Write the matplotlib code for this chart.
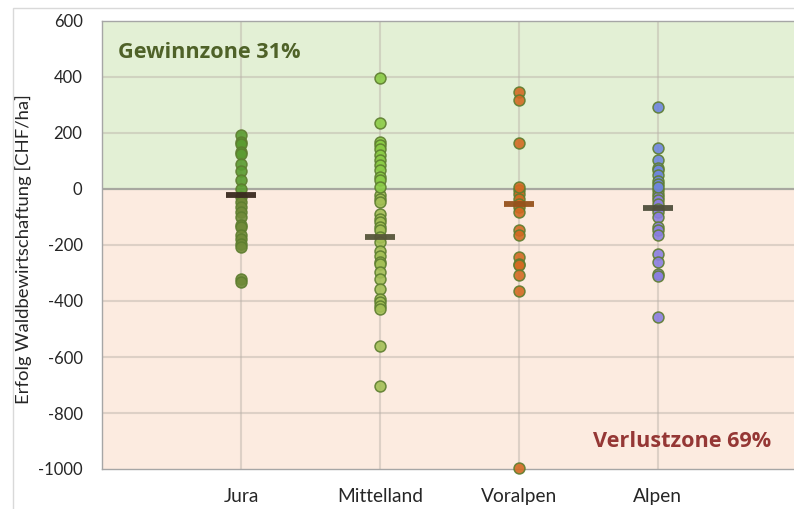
import matplotlib
matplotlib.use("Agg")
import matplotlib.pyplot as plt
from matplotlib.patches import Rectangle

categories = ["Jura", "Mittelland", "Voralpen", "Alpen"]

jura = [193, 168, 162, 132, 126, 91, 66, 31, 1, -29, -47, -65, -83, -101,
        -130, -136, -166, -178, -196, -208, -321, -333]
mittelland = [395, 237, 168, 156, 144, 120, 104, 86, 69, 43, 31, 7, -23, -35,
              -47, -88, -106, -118, -136, -148, -172, -190, -220, -238, -262,
              -267, -297, -321, -357, -393, -405, -417, -428, -560, -703]
voralpen = [347, 317, 164, 7, -5, -17, -35, -53, -65, -83, -148, -166, -244,
            -267, -273, -306, -365, -995]
alpen = [293, 148, 102, 76, 69, 49, 28, 19, 7, -5, -17, -29, -41, -53, -71,
         -83, -101, -136, -148, -166, -232, -262, -303, -309, -458]
series = [jura, mittelland, voralpen, alpen]

means = [-23, -170, -53, -67]

y_ticks = [600, 400, 200, 0, -200, -400, -600, -800, -1000]
zone_labels = ["Gewinnzone 31%", "Verlustzone 69%"]

pos_colors = ["#5a9b30", "#8acb45", "#d26a22", "#6f86dd"]
neg_colors = ["#6f8a38", "#a3bf55", "#d26a22", "#8a7ee0"]
mean_colors = ["#3a2a1f", "#57553a", "#96521c", "#4f4f3c"]
edge_col = "#5d7d2f"

plt.rcParams['font.family'] = ['Lato', 'DejaVu Sans']

W, H = 794, 509
fig = plt.figure(figsize=(W / 100, H / 100), dpi=100)

# outer chart border
fig.patches.append(Rectangle((13 / W, -0.01), 1.0, 1 - 8 / H + 0.01,
                             transform=fig.transFigure, fill=False,
                             edgecolor="#d9d9d9", linewidth=1.0))

left, right, top, bottom = 102, 794, 21, 469
ax = fig.add_axes([left / W, 1 - bottom / H, (right - left) / W, (bottom - top) / H])

ymin, ymax = -1000, 600
ax.set_ylim(ymin, ymax)
ax.set_xlim(0, 4.98)

ax.axhspan(0, ymax, color="#e3f0d5", zorder=0, linewidth=0)
ax.axhspan(ymin, 0, color="#fcebe0", zorder=0, linewidth=0)

for yv in y_ticks:
    if yv in (ymin, ymax, 0):
        continue
    ax.axhline(yv, color="#b9b0a8", alpha=0.45, linewidth=1.5, zorder=1)
for i in range(len(categories)):
    ax.axvline(i + 1, color="#b9b0a8", alpha=0.45, linewidth=1.5, zorder=1)
ax.axhline(0, color="#a8a8a0", linewidth=1.6, zorder=2)

for i, vals in enumerate(series):
    pos = [v for v in vals if v >= 0]
    neg = [v for v in vals if v < 0]
    ax.scatter([i + 1] * len(neg), neg, s=62, color=neg_colors[i],
               edgecolors=edge_col, linewidths=1.1, alpha=0.9, zorder=3,
               clip_on=False)
    ax.scatter([i + 1] * len(pos), pos, s=62, color=pos_colors[i],
               edgecolors=edge_col, linewidths=1.1, alpha=0.9, zorder=3,
               clip_on=False)

for i, m in enumerate(means):
    ax.plot([i + 1], [m], marker="_", markersize=21, markeredgewidth=4.2,
            color=mean_colors[i], zorder=5, alpha=0.95)

ax.set_yticks(y_ticks)
ax.set_yticklabels([str(v) for v in y_ticks], fontsize=12, color="#262626")
ax.set_xticks(range(1, len(categories) + 1))
ax.set_xticklabels(categories, fontsize=13.8, color="#262626")
ax.tick_params(axis="y", length=0, pad=14)
ax.tick_params(axis="x", length=0, pad=14)

for sp in ["left", "bottom", "top"]:
    ax.spines[sp].set_color("#a6a6a6")
    ax.spines[sp].set_linewidth(1.0)
ax.spines["right"].set_visible(False)

ax.set_ylabel("Erfolg Waldbewirtschaftung [CHF/ha]", fontsize=13.3,
              color="#262626")
ax.yaxis.set_label_coords(-0.101, 0.49)

ax.text(0.023, 0.93, zone_labels[0], transform=ax.transAxes, fontsize=15.6,
        fontweight="bold", color="#4f6228", ha="left", va="center",
        family=["Open Sans", "DejaVu Sans"])
ax.text(0.967, 0.062, zone_labels[1], transform=ax.transAxes, fontsize=15.6,
        fontweight="bold", color="#953735", ha="right", va="center",
        family=["Open Sans", "DejaVu Sans"])

fig.savefig("out.png", dpi=100)
